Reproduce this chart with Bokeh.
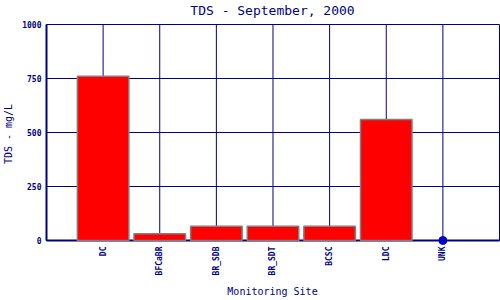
import math
from bokeh.plotting import figure
from bokeh.models import FixedTicker, ColumnDataSource, Range1d
from bokeh.embed import file_html
from bokeh.resources import INLINE

sites = ["DC", "BFCaBR", "BR_SDB", "BR_SDT", "BCSC", "LDC", "UNK"]
tds = [760, 31, 66, 66, 66, 560, 0]
y_ticks = [0, 250, 500, 750, 1000]

NAVY = "#000080"
FONT = "DejaVu Sans Mono"

n = len(sites)
xs = list(range(1, n + 1))
bar_x = [x for x, v in zip(xs, tds) if v > 0]
bar_v = [v for v in tds if v > 0]
pt_x = [x for x, v in zip(xs, tds) if v == 0]
pt_v = [v for v in tds if v == 0]

ymin, ymax = y_ticks[0], y_ticks[-1]
xmin, xmax = 0, n + 1

# frame slightly larger than data box so that edge lines and the dot are not clipped
px_x = 454 / (xmax - xmin)
px_y = 216 / (ymax - ymin)
p = figure(width=500, height=300, output_backend="svg", toolbar_location=None,
           x_range=Range1d(xmin - 2 / px_x, xmax + 1 / px_x),
           y_range=Range1d(ymin - 5 / px_y, ymax + 2 / px_y),
           title="TDS - September, 2000")
p.min_border_left = 43
p.min_border_right = 0
p.min_border_top = 22
p.min_border_bottom = 55
p.background_fill_color = "white"
p.border_fill_color = "white"
p.outline_line_color = None

p.title.text_font = FONT
p.title.text_font_size = "13px"
p.title.text_font_style = "normal"
p.title.text_color = NAVY
p.title.align = "center"
p.title.standoff = 5
p.title.text_line_height = 0.85
p.title.vertical_align = "top"

# grid drawn as data segments inside the data box
vx = [xmin] + xs + [xmax]
p.segment(x0=vx, y0=[ymin] * len(vx), x1=vx, y1=[ymax] * len(vx),
          line_color=NAVY, line_width=1)
p.segment(x0=[xmin] * len(y_ticks), y0=y_ticks, x1=[xmax] * len(y_ticks), y1=y_ticks,
          line_color=NAVY, line_width=1)
# axis lines
p.segment(x0=[xmin, xmin], y0=[ymin, ymin], x1=[xmax, xmin], y1=[ymin, ymax],
          line_color=NAVY, line_width=2)

src = ColumnDataSource(dict(x=bar_x, top=bar_v))
p.vbar(x="x", top="top", bottom=ymin, width=0.91, source=src,
       fill_color="#ff0000", line_color="#808080", line_width=1.5)
p.scatter(pt_x, pt_v, size=8, color="#0000cc")

p.xgrid.visible = False
p.ygrid.visible = False

p.xaxis.ticker = FixedTicker(ticks=xs)
p.xaxis.major_label_overrides = {x: s for x, s in zip(xs, sites)}
p.xaxis.major_label_orientation = math.pi / 2
p.yaxis.ticker = FixedTicker(ticks=y_ticks)

for ax in (p.xaxis[0], p.yaxis[0]):
    ax.axis_line_color = None
    ax.major_tick_line_color = None
    ax.minor_tick_line_color = None
    ax.major_tick_out = 0
    ax.major_tick_in = 0
    ax.major_label_text_font = FONT
    ax.major_label_text_font_size = "8px"
    ax.major_label_text_font_style = "bold"
    ax.major_label_text_color = NAVY
    ax.axis_label_text_font = FONT
    ax.axis_label_text_font_size = "10px"
    ax.axis_label_text_font_style = "normal"
    ax.axis_label_text_color = NAVY

p.xaxis.axis_label = "Monitoring Site"
p.yaxis.axis_label = "TDS - mg/L"
p.xaxis.major_label_standoff = 1
p.yaxis.major_label_standoff = 3
p.xaxis.axis_label_standoff = 8

open("out.html", "w").write(file_html(p, INLINE))
